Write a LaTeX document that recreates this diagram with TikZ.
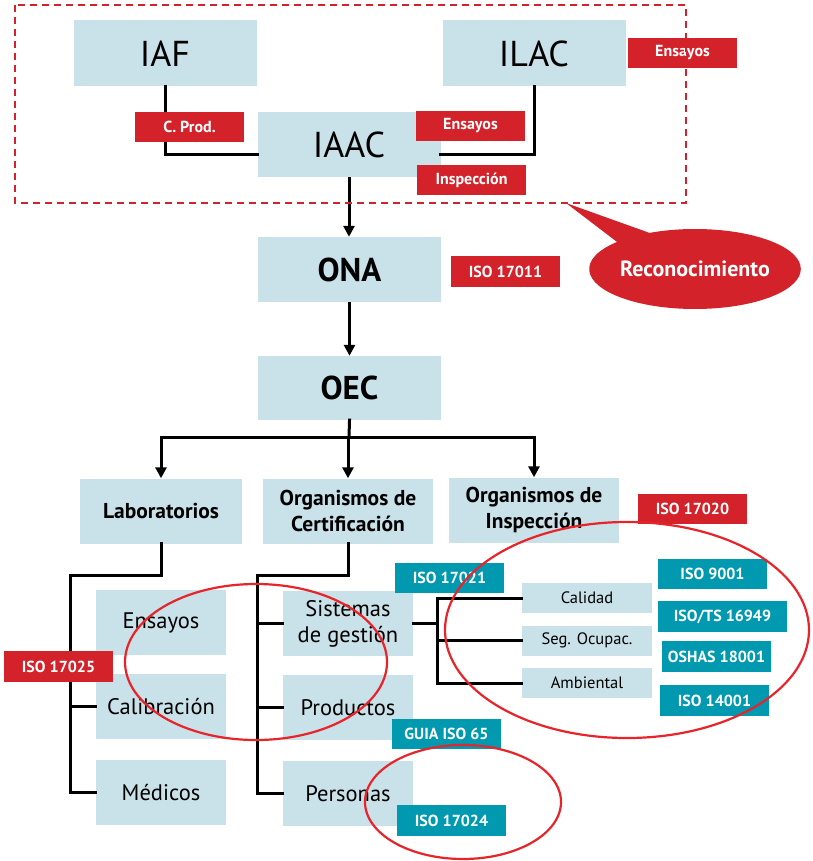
\documentclass[tikz,border=0pt]{standalone}
\usepackage{fontspec}
\setmainfont{PT Sans}
\usetikzlibrary{arrows.meta,shapes.callouts}
\definecolor{boxblue}{HTML}{C9E1E8}
\definecolor{tagred}{HTML}{D3222A}
\definecolor{tagteal}{HTML}{0099B0}
\definecolor{ringred}{HTML}{E8232A}

\begin{document}
\begin{tikzpicture}[x=1pt,y=-1pt,
  box/.style={fill=boxblue, inner sep=0pt, align=center},
  bigbox/.style={box, minimum width=183pt, minimum height=66pt, font=\fontsize{36}{38}\selectfont},
  headbox/.style={box, minimum width=183pt, minimum height=65pt, font=\fontsize{33}{35}\selectfont\bfseries},
  catbox/.style={box, minimum width=166pt, minimum height=65pt, font=\fontsize{21.5}{26}\selectfont\bfseries},
  subbox/.style={box, minimum width=130pt, minimum height=65pt, font=\fontsize{22.5}{26}\selectfont},
  normbox/.style={box, minimum width=130pt, minimum height=30pt, font=\fontsize{16.5}{18}\selectfont},
  redtag/.style={fill=tagred, text=white, inner sep=0pt, minimum width=109pt, minimum height=30pt, font=\fontsize{16}{18}\selectfont\bfseries},
  tealtag/.style={redtag, fill=tagteal},
  link/.style={line width=3pt, black, line cap=rect},
  arr/.style={line width=3pt, black, -{Triangle[length=11pt,width=11pt]}},
  ring/.style={ringred, line width=2.2pt},
]
\useasboundingbox (0,0) rectangle (812,861);

%%%%%%%%% international level
\node[bigbox] (iaf) at (165,53.5) {IAF};
\node[bigbox] (ilac) at (534,53.5) {ILAC};
\node[bigbox, minimum height=65pt] (iaac) at (349,144.5) {IAAC};

%%%%%%%%% national level
\node[headbox] (ona) at (349.5,269.5) {ONA};
\node[headbox, minimum height=64pt] (oec) at (349.5,388) {OEC};

%%%%%%%%% bodies
\node[catbox, minimum width=162pt] (lab) at (161,511) {Laboratorios};
\node[catbox, minimum width=170pt] (cert) at (348,511) {Organismos de\\Certificación};
\node[catbox, minimum width=170pt] (insp) at (534,510) {Organismos de\\Inspección};

\node[subbox] (ensayos) at (161,622.5) {Ensayos};
\node[subbox] (calib) at (161,706.5) {Calibración};
\node[subbox] (medicos) at (161,792.5) {Médicos};

\node[subbox] (sist) at (348,623.5) {Sistemas\\de gestión};
\node[subbox] (prod) at (348,707.5) {Productos};
\node[subbox] (pers) at (348,793.5) {Personas};

\node[normbox] (calidad) at (587,598) {Calidad};
\node[normbox] (segocup) at (587,640.5) {Seg. Ocupac.};
\node[normbox] (ambiental) at (587,683) {Ambiental};

%%%%%%%%% connectors
\draw[link] (iaf.south) |- ([yshift=-10.5pt]iaac.west);
\draw[link] (ilac.south) |- ([yshift=-10.5pt]iaac.east);
\draw[arr] (iaac.south) -- (iaac.south |- ona.north);
\draw[arr] (ona.south) -- (ona.south |- oec.north);

\coordinate (fork) at (349,437);
\draw[link] (oec.south) -- (fork);
\draw[link] (lab.north |- fork) -- (insp.north |- fork);
\foreach \n in {lab,cert,insp}
  \draw[arr] (\n.north |- fork) -- (\n.north);

%%%%%%%%% laboratorios
\coordinate (labbus) at (70,575);
\draw[link] (lab.south) |- (labbus) |- (medicos.west);
\draw[link] (labbus |- calib.west) -- (calib.west);

%%%%%%%%% certificacion
\coordinate (certbus) at (257,575);
\draw[link] (cert.south) |- (certbus) |- (pers.west);
\foreach \n in {sist,prod}
  \draw[link] (certbus |- \n.west) -- (\n.west);

\coordinate (sgbus) at (437,640.5);
\draw[link] (calidad.west) -| (sgbus) |- (ambiental.west);
\draw[link] (sist.east) -- (sist.east -| sgbus);
\draw[link] (sgbus) -- (segocup.west);

%%%%%%%%% red tags
\node[redtag] (ensilac) at (682.5,53) {Ensayos};
\node[redtag] (cprod) at (189.5,127) {C. Prod.};
\node[redtag] (ensiaac) at (470.5,126) {Ensayos};
\node[redtag] (inspiaac) at (471.5,180) {Inspección};
\node[redtag, minimum height=31pt] (iso17011) at (505.5,271.5) {ISO 17011};
\node[redtag] (iso17020) at (692.5,509) {ISO 17020};
\node[redtag, minimum height=31pt] (iso17025) at (58.5,666.5) {ISO 17025};

%%%%%%%%% teal tags
\node[tealtag] (iso17021) at (449.5,578) {ISO 17021};
\node[tealtag] (iso9001) at (712.5,574) {ISO 9001};
\node[tealtag, minimum width=129pt, minimum height=31pt] (isots) at (722.5,616.5) {ISO/TS 16949};
\node[tealtag, minimum height=31pt] (oshas) at (716.5,656.5) {OSHAS 18001};
\node[tealtag, minimum height=31pt] (iso14001) at (714.5,700.5) {ISO 14001};
\node[tealtag] (guia) at (446.5,734) {GUIA ISO 65};
\node[tealtag, minimum height=31pt] (iso17024) at (451.5,820.5) {ISO 17024};

%%%%%%%%% reconocimiento
\draw[tagred, line width=2pt, dash pattern=on 7pt off 5pt] (15,5) rectangle (686,203);
\node[ellipse callout, fill=tagred, text=white, inner sep=0pt,
      minimum width=204pt, minimum height=80pt,
      callout absolute pointer={(566,203)}, callout pointer arc=22,
      font=\fontsize{22}{24}\selectfont\bfseries] (reco) at (695,269) {Reconocimiento};

%%%%%%%%% rings
\draw[ring] (256,662) ellipse [x radius=131pt, y radius=78pt];
\draw[ring] (627,630) ellipse [x radius=182pt, y radius=108pt];
\draw[ring] (463,802) ellipse [x radius=98pt, y radius=57pt];

\end{tikzpicture}
\end{document}
